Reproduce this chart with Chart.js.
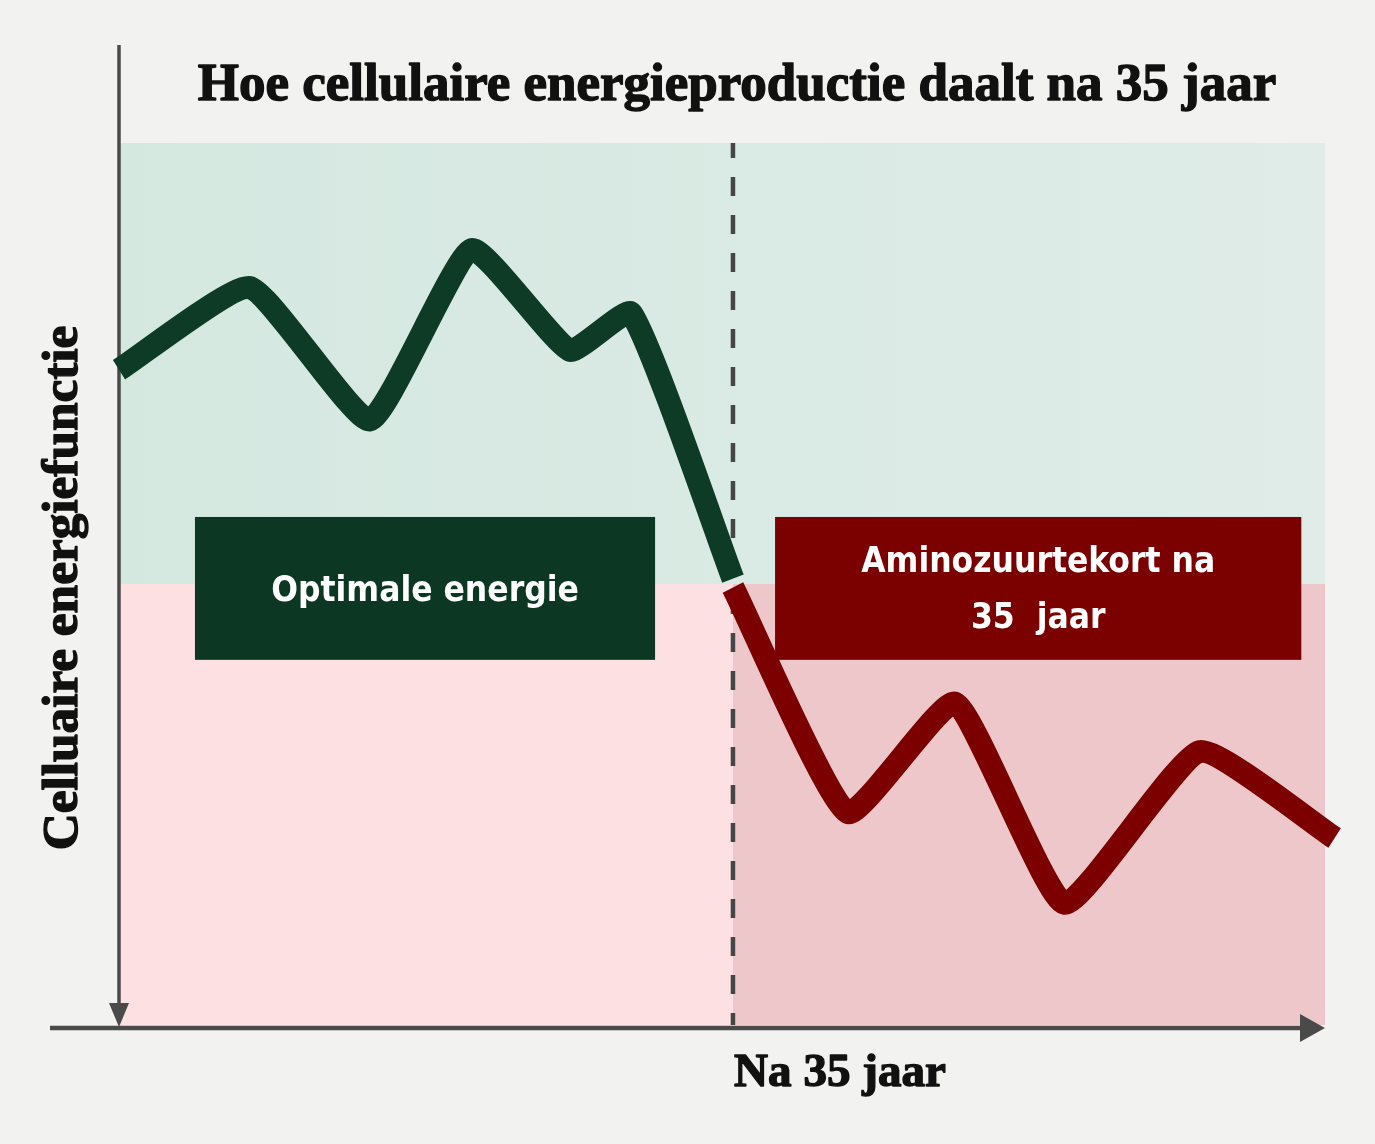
<!DOCTYPE html>
<html>
<head>
<meta charset="utf-8">
<script src="https://cdn.jsdelivr.net/npm/chart.js@4.4.1/dist/chart.umd.min.js"></script>
<style>
  html, body { margin: 0; padding: 0; background: #f2f2f0; }
  #wrap { width: 1375px; height: 1144px; position: relative; }
</style>
</head>
<body>
<div id="wrap"><canvas id="c" width="1375" height="1144"></canvas></div>
<script>
// ---- data ----
const titleText = 'Hoe cellulaire energieproductie daalt na 35 jaar';
const yAxisTitle = 'Celluaire energiefunctie';
const xAxisTitle = 'Na 35 jaar';
const splitAge = 35;            // dashed divider
const thresholdLevel = 50;      // green / red boundary
const ageMax = 68.75;
const levelMax = 100;

const greenAges   = [0, 7.45, 14.3, 20.1, 25.7, 29.2, 35];
const greenLevels = [74.3, 83.6, 68.6, 87.9, 76.5, 80.7, 50.6];
const redAges     = [35, 41.55, 47.65, 53.9, 61.6, 69.3];
const redLevels   = [49.6, 24.1, 36.5, 13.8, 31.0, 21.2];

const greenLabel = ['Optimale energie'];
const redLabel = ['Aminozuurtekort na', '35  jaar'];

const toPts = (xs, ys) => xs.map((x, i) => ({ x: x, y: ys[i] }));

const SERIF = '"Liberation Serif", "DejaVu Serif", serif';
function fitText(ctx, text, targetW, family) {
  ctx.font = 'bold 40px ' + family;
  const w = ctx.measureText(text).width;
  const size = 40 * targetW / w;
  ctx.font = 'bold ' + size.toFixed(1) + 'px ' + family;
}
function heavyText(ctx, text, x, y) {
  ctx.lineWidth = 1.4; ctx.lineJoin = 'round';
  ctx.strokeStyle = ctx.fillStyle;
  ctx.strokeText(text, x, y);
  ctx.fillText(text, x, y);
}

const decor = {
  id: 'decor',
  beforeDatasetsDraw(chart) {
    const { ctx, scales: { x, y } } = chart;
    const x0 = x.getPixelForValue(0), x1 = x.getPixelForValue(ageMax), xs = x.getPixelForValue(splitAge);
    const yTop = y.getPixelForValue(levelMax), yMid = y.getPixelForValue(thresholdLevel), yBot = y.getPixelForValue(0);
    ctx.save();
    let g = ctx.createLinearGradient(x0, 0, x1, 0);
    g.addColorStop(0, '#d4e8e0'); g.addColorStop(1, '#dfece8');
    ctx.fillStyle = g; ctx.fillRect(x0, yTop, x1 - x0, yMid - yTop);
    ctx.fillStyle = '#fde0e1'; ctx.fillRect(x0, yMid, xs - x0, yBot - yMid);
    ctx.fillStyle = '#edc7c9'; ctx.fillRect(xs, yMid, x1 - xs, yBot - yMid);
    ctx.strokeStyle = '#464646'; ctx.lineWidth = 4.5; ctx.setLineDash([19, 19]); ctx.lineDashOffset = 4;
    ctx.beginPath(); ctx.moveTo(xs, yTop); ctx.lineTo(xs, yBot); ctx.stroke();
    ctx.setLineDash([]);
    ctx.strokeStyle = '#4a4a4a'; ctx.fillStyle = '#4a4a4a';
    ctx.lineWidth = 3.5;
    ctx.beginPath(); ctx.moveTo(x0, 45); ctx.lineTo(x0, yBot - 12); ctx.stroke();
    ctx.beginPath(); ctx.moveTo(x0 - 10, yBot - 22); ctx.lineTo(x0 + 10, yBot - 22); ctx.lineTo(x0, yBot + 2); ctx.closePath(); ctx.fill();
    ctx.lineWidth = 4.5;
    ctx.beginPath(); ctx.moveTo(50, yBot + 3); ctx.lineTo(x1 - 20, yBot + 3); ctx.stroke();
    ctx.beginPath(); ctx.moveTo(x1 - 25, yBot - 11); ctx.lineTo(x1, yBot + 3); ctx.lineTo(x1 - 25, yBot + 17); ctx.closePath(); ctx.fill();
    ctx.restore();
  },
  afterDatasetsDraw(chart) {
    const { ctx, scales: { x, y } } = chart;
    ctx.save();
    const box = (a0, a1, l0, l1, color, lines, lh, dy) => {
      const px0 = x.getPixelForValue(a0), px1 = x.getPixelForValue(a1);
      const py0 = y.getPixelForValue(l1), py1 = y.getPixelForValue(l0);
      ctx.fillStyle = color; ctx.fillRect(px0, py0, px1 - px0, py1 - py0);
      ctx.fillStyle = '#ffffff';
      ctx.font = 'bold 35px "DejaVu Sans Condensed", "DejaVu Sans", sans-serif';
      ctx.textAlign = 'center'; ctx.textBaseline = 'middle';
      const cx = (px0 + px1) / 2, cy = (py0 + py1) / 2 + dy;
      lines.forEach((t, i) => ctx.fillText(t, cx, cy + (i - (lines.length - 1) / 2) * lh));
    };
    box(4.33, 30.56, 41.4, 57.6, '#0c3823', greenLabel, 56, 3);
    box(37.4, 67.4, 41.4, 57.6, '#7b0000', redLabel, 56, 2);
    ctx.fillStyle = '#111111';
    ctx.textAlign = 'center'; ctx.textBaseline = 'alphabetic';
    fitText(ctx, titleText, 1078, SERIF);
    heavyText(ctx, titleText, 737, 100);
    fitText(ctx, xAxisTitle, 212, SERIF);
    heavyText(ctx, xAxisTitle, 840, 1086);
    fitText(ctx, yAxisTitle, 525, SERIF);
    ctx.translate(77, 588); ctx.rotate(-Math.PI / 2);
    heavyText(ctx, yAxisTitle, 0, 0);
    ctx.restore();
  }
};

new Chart(document.getElementById('c'), {
  type: 'line',
  data: {
    datasets: [
      { data: toPts(greenAges, greenLevels), borderColor: '#0d3b26', borderWidth: 23, tension: 0.15,
        borderJoinStyle: 'round', borderCapStyle: 'butt', pointRadius: 0, clip: false },
      { data: toPts(redAges, redLevels), borderColor: '#7d0000', borderWidth: 23, tension: 0.15,
        borderJoinStyle: 'round', borderCapStyle: 'butt', pointRadius: 0, clip: false }
    ]
  },
  options: {
    responsive: false, animation: false,
    layout: { padding: { left: 119, top: 143, right: 50, bottom: 119 } },
    plugins: { legend: { display: false }, tooltip: { enabled: false }, title: { display: false } },
    scales: {
      x: { type: 'linear', min: 0, max: ageMax, display: false },
      y: { type: 'linear', min: 0, max: levelMax, display: false }
    }
  },
  plugins: [decor]
});
</script>
</body>
</html>
